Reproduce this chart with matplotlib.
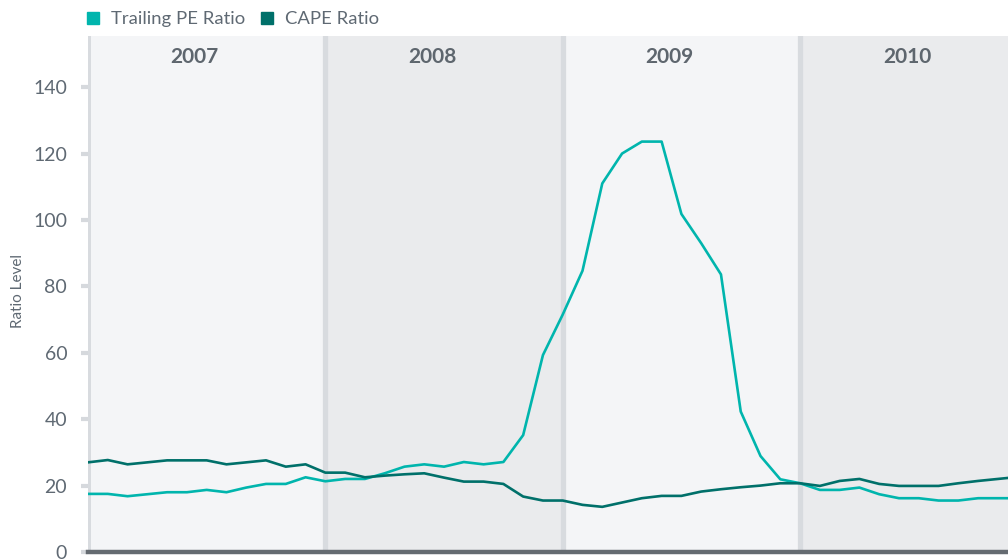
import matplotlib
matplotlib.use("Agg")
import matplotlib.pyplot as plt
from matplotlib.lines import Line2D
import numpy as np

plt.rcParams['font.family'] = ['Lato', 'DejaVu Sans']

years = ["2007", "2008", "2009", "2010"]
trailing_pe = [
    17.5, 17.5, 16.8, 17.4, 18.0, 18.0, 18.7, 18.0, 19.4, 20.5, 20.5, 22.5,
    21.3, 22.0, 22.0, 23.7, 25.7, 26.4, 25.7, 27.1, 26.4, 27.1, 35.2, 59.3,
    71.5, 84.7, 111.0, 120.0, 123.6, 123.6, 101.8, 93.0, 83.6, 42.3, 28.9, 21.9,
    20.7, 18.7, 18.7, 19.4, 17.4, 16.2, 16.2, 15.5, 15.5, 16.2, 16.2, 16.2,
]
cape = [
    27.0, 27.7, 26.4, 27.0, 27.6, 27.6, 27.6, 26.4, 27.0, 27.6, 25.7, 26.4,
    23.9, 23.9, 22.5, 23.0, 23.4, 23.7, 22.4, 21.2, 21.2, 20.5, 16.7, 15.5,
    15.5, 14.2, 13.6, 14.9, 16.2, 16.9, 16.9, 18.2, 18.9, 19.5, 20.0, 20.7,
    20.7, 19.9, 21.4, 22.0, 20.5, 19.9, 19.9, 19.9, 20.7, 21.4, 22.0, 22.6,
]
yticks = [0, 20, 40, 60, 80, 100, 120, 140]

PE_COLOR = "#00b5ad"
CAPE_COLOR = "#00706a"
TEXT = "#5f6973"

fig = plt.figure(figsize=(10.08, 5.6), dpi=100)
ax = fig.add_axes([88 / 1008, 1 - 552 / 560, 1 - 88 / 1008, (552 - 36) / 560])

months = np.arange(len(trailing_pe))
band_colors = ["#f4f5f7", "#eaebed"]
for i, yr in enumerate(years):
    ax.axvspan(12 * i, 12 * (i + 1), color=band_colors[i % 2], zorder=0, lw=0)
    ax.text(12 * i + 5.4, 149.2, yr, ha="center", va="center",
            fontsize=15, fontweight="bold", color="#5e666e")
    ax.axvline(12 * i, color="#d8dbdf", lw=4.3 if i == 0 else 3.8, zorder=1)

ax.plot(months, trailing_pe, color=PE_COLOR, lw=1.9, zorder=3)
ax.plot(months, cape, color=CAPE_COLOR, lw=1.9, zorder=3)

ax.set_xlim(0, (1008 - 88) / 19.78)
ax.set_ylim(0, 155.4)
ax.set_yticks(yticks)
ax.set_yticklabels([str(v) for v in yticks])
ax.set_xticks([])
ax.tick_params(axis="y", length=5, width=3, color="#d6d9dd", pad=10,
               labelsize=14, labelcolor=TEXT)
for s in ["top", "right", "left"]:
    ax.spines[s].set_visible(False)
ax.spines["bottom"].set_color("#656b71")
ax.spines["bottom"].set_linewidth(3.2)
ax.spines["bottom"].set_zorder(5)

fig.text(18 / 1008, 1 - 291 / 560, "Ratio Level", rotation=90, ha="center", va="center",
         fontsize=11, color=TEXT)

handles = [
    Line2D([], [], marker="s", ls="", color=PE_COLOR, markersize=8),
    Line2D([], [], marker="s", ls="", color=CAPE_COLOR, markersize=8),
]
fig.legend(handles, ["Trailing PE Ratio", "CAPE Ratio"], loc="center left",
           bbox_to_anchor=(87 / 1008, 1 - 19 / 560), ncol=2, frameon=False,
           fontsize=13.3, labelcolor=TEXT, handlelength=0.7, handletextpad=0.6,
           columnspacing=0.85, borderaxespad=0, borderpad=0)

fig.savefig("out.png", dpi=100, facecolor="white")
